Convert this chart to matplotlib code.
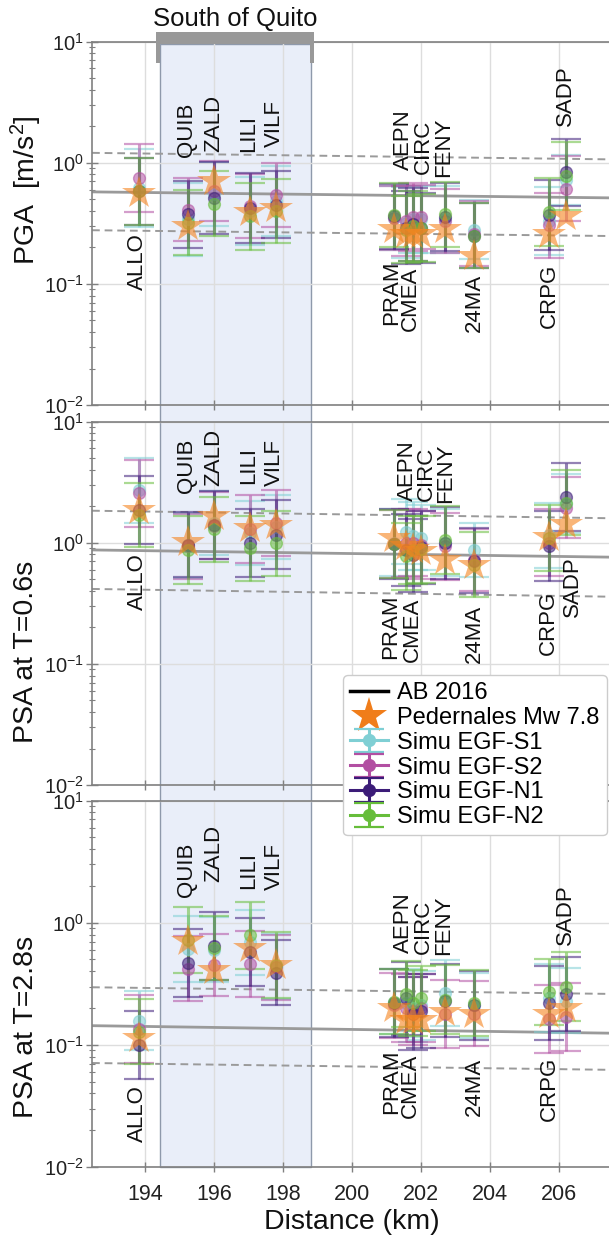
import numpy as np
import matplotlib
matplotlib.use('Agg')
import matplotlib.pyplot as plt
from matplotlib.patches import Rectangle
from matplotlib.lines import Line2D
import matplotlib.transforms as mtransforms
from matplotlib.ticker import FixedLocator, FuncFormatter, LogLocator, NullFormatter

plt.rcParams['font.family'] = ['Liberation Sans', 'DejaVu Sans']
plt.rcParams['mathtext.fontset'] = 'custom'
plt.rcParams['mathtext.rm'] = 'Liberation Sans'
plt.rcParams['mathtext.it'] = 'Liberation Sans:italic'
plt.rcParams['mathtext.bf'] = 'Liberation Sans:bold'

# ---------------- data ----------------
stations = ["ALLO", "QUIB", "ZALD", "LILI", "VILF", "PRAM", "CMEA", "AEPN",
            "CIRC", "FENY", "24MA", "CRPG", "SADP"]
distance_km = [193.83, 195.26, 196.0, 197.06, 197.81, 201.21, 201.55, 201.77,
               202.0, 202.69, 203.54, 205.71, 206.2]
label_x_km = [193.8, 195.2, 196.0, 197.0, 197.74, 201.15, 201.7, 201.5,
              202.06, 202.64, 203.55, 205.72, 206.17]
label_x_km_mid = [193.8, 195.2, 196.0, 197.0, 197.74, 201.12, 201.75, 201.6,
                  202.16, 202.72, 203.55, 205.70, 206.38]

sim_names = ["Simu EGF-S1", "Simu EGF-S2", "Simu EGF-N1", "Simu EGF-N2"]
sim_colors = ["#7fcfd4", "#b24fa2", "#3c1c78", "#66bd3a"]

# PGA
pga_obs = [0.565, 0.30, 0.71, 0.394, 0.42, 0.281, 0.256, 0.26, 0.256, 0.281, 0.17, 0.256, 0.362]
pga_s1 = [0.62, 0.34, 0.55, 0.40, 0.48, 0.35, 0.32, 0.34, 0.34, 0.34, 0.28, 0.33, 0.72]
pga_s2 = [0.75, 0.41, 0.58, 0.44, 0.54, 0.35, 0.33, 0.356, 0.356, 0.33, 0.26, 0.305, 0.61]
pga_n1 = [0.58, 0.375, 0.51, 0.42, 0.45, 0.36, 0.29, 0.31, 0.29, 0.356, 0.25, 0.37, 0.83]
pga_n2 = [0.58, 0.32, 0.46, 0.36, 0.40, 0.37, 0.28, 0.30, 0.29, 0.374, 0.25, 0.39, 0.78]
pga_s1_fac = [2.1, 2.0, 1.85, 1.9, 1.95, 1.85, 1.95, 1.9, 1.9, 1.9, 1.75, 1.9, 1.6]
pga_s2_fac = [1.9, 1.83, 1.77, 1.83, 1.85, 1.85, 1.95, 1.9, 1.85, 1.85, 1.85, 1.85, 1.85]
pga_n1_fac = [1.9, 1.9, 1.98, 1.95, 1.9, 1.85, 2.0, 2.0, 1.95, 1.9, 1.85, 1.95, 1.88]
pga_n2_fac = [1.9, 1.85, 1.84, 1.9, 1.85, 1.85, 1.9, 1.95, 1.9, 1.85, 1.85, 1.9, 1.9]
pga_ab_med = [0.574, 0.512]
pga_ab_hi = [1.205, 1.064]
pga_ab_lo = [0.277, 0.248]
pga_label_side = ["below", "above", "above", "above", "above", "below", "below",
                  "above", "above", "above", "below", "below", "above"]
pga_label_val = [0.26, 1.12, 1.22, 1.22, 1.35, 0.156, 0.138, 0.87, 0.81, 0.76, 0.121, 0.147, 2.0]

# PSA T=0.6 s
p06_obs = [1.86, 1.02, 1.66, 1.31, 1.40, 1.09, 0.93, 0.88, 0.86, 0.72, 0.66, 1.12, 1.43]
p06_s1 = [2.7, 0.95, 1.45, 1.2, 1.35, 1.0, 1.23, 1.13, 1.1, 1.0, 0.87, 1.15, 2.1]
p06_s2 = [2.55, 0.93, 1.38, 1.29, 1.45, 0.97, 0.99, 1.0, 0.96, 0.93, 0.72, 1.0, 1.95]
p06_n1 = [1.86, 0.96, 1.40, 0.99, 1.16, 0.975, 0.87, 0.79, 0.92, 1.0, 0.71, 0.94, 2.37]
p06_n2 = [1.69, 0.87, 1.29, 0.90, 0.99, 0.975, 0.77, 0.87, 0.88, 1.05, 0.66, 1.09, 2.14]
p06_s1_fac = [1.85, 1.85, 1.85, 1.85, 1.85, 1.9, 1.85, 1.9, 1.85, 1.9, 1.67, 1.85, 1.75]
p06_s2_fac = [1.9, 1.85, 1.9, 1.9, 1.86, 1.9, 1.9, 1.9, 1.9, 1.9, 1.8, 1.9, 1.8]
p06_n1_fac = [1.9, 1.85, 1.9, 1.9, 1.93, 1.94, 2.0, 2.0, 2.0, 1.98, 1.85, 1.95, 1.9]
p06_n2_fac = [1.85, 1.9, 1.85, 1.85, 1.86, 1.9, 1.9, 1.9, 1.9, 1.9, 1.85, 1.88, 1.85]
p06_ab_med = [0.871, 0.759]
p06_ab_hi = [1.835, 1.59]
p06_ab_lo = [0.415, 0.358]
p06_label_side = ["below", "above", "above", "above", "above", "below", "below",
                  "above", "above", "above", "below", "below", "below"]
p06_label_val = [0.82, 2.55, 2.94, 3.05, 2.94, 0.37, 0.35, 2.22, 2.2, 2.14, 0.31, 0.40, 0.77]

# PSA T=2.8 s
p28_obs = [0.113, 0.71, 0.41, 0.62, 0.45, 0.20, 0.16, 0.16, 0.16, 0.185, 0.18, 0.18, 0.20]
p28_s1 = [0.158, 0.61, 0.60, 0.69, 0.44, 0.226, 0.22, 0.20, 0.21, 0.265, 0.21, 0.24, 0.23]
p28_s2 = [0.134, 0.42, 0.45, 0.46, 0.43, 0.21, 0.20, 0.19, 0.20, 0.18, 0.18, 0.163, 0.17]
p28_n1 = [0.10, 0.47, 0.64, 0.58, 0.39, 0.22, 0.24, 0.18, 0.19, 0.23, 0.21, 0.22, 0.26]
p28_n2 = [0.128, 0.72, 0.62, 0.79, 0.45, 0.226, 0.26, 0.22, 0.24, 0.235, 0.22, 0.27, 0.30]
p28_s1_fac = [1.75, 1.86, 1.85, 1.85, 1.85, 1.85, 1.9, 1.9, 1.9, 1.85, 1.85, 1.9, 1.85]
p28_s2_fac = [1.9, 1.85, 1.8, 1.87, 1.85, 1.85, 1.9, 1.9, 1.9, 1.9, 1.85, 1.9, 1.9]
p28_n1_fac = [1.9, 1.9, 1.9, 1.9, 1.85, 1.9, 2.0, 2.0, 2.0, 2.0, 1.9, 2.0, 2.0]
p28_n2_fac = [1.85, 1.85, 1.83, 1.88, 1.85, 1.85, 1.85, 1.85, 1.85, 1.9, 1.85, 1.85, 1.9]
p28_ab_med = [0.1435, 0.1245]
p28_ab_hi = [0.296, 0.261]
p28_ab_lo = [0.071, 0.0624]
p28_label_side = ["below", "above", "above", "above", "above", "below", "below",
                  "above", "above", "above", "below", "below", "above"]
p28_label_val = [0.047, 1.62, 2.17, 1.89, 1.85, 0.091, 0.085, 0.56, 0.55, 0.54, 0.078, 0.080, 0.66]

ab_dist = [192.47, 207.53]
x_ticks = [194, 196, 198, 200, 202, 204, 206]
y_ticks = [1e-2, 1e-1, 1e0, 1e1]
band_km = [194.44, 198.8]
ylabels = ["PGA  [m/s$^{2}$]", "PSA at T=0.6s", "PSA at T=2.8s"]

panels = [
    dict(obs=pga_obs, sims=[pga_s1, pga_s2, pga_n1, pga_n2],
         facs=[pga_s1_fac, pga_s2_fac, pga_n1_fac, pga_n2_fac],
         ab=(pga_ab_med, pga_ab_hi, pga_ab_lo), side=pga_label_side,
         lval=pga_label_val, lx=label_x_km),
    dict(obs=p06_obs, sims=[p06_s1, p06_s2, p06_n1, p06_n2],
         facs=[p06_s1_fac, p06_s2_fac, p06_n1_fac, p06_n2_fac],
         ab=(p06_ab_med, p06_ab_hi, p06_ab_lo), side=p06_label_side,
         lval=p06_label_val, lx=label_x_km_mid),
    dict(obs=p28_obs, sims=[p28_s1, p28_s2, p28_n1, p28_n2],
         facs=[p28_s1_fac, p28_s2_fac, p28_n1_fac, p28_n2_fac],
         ab=(p28_ab_med, p28_ab_hi, p28_ab_lo), side=p28_label_side,
         lval=p28_label_val, lx=label_x_km),
]

# ---------------- figure ----------------
W, H = 609, 1238
fig = plt.figure(figsize=(W / 100, H / 100), dpi=100)

def fy(px):
    return 1 - px / H

ax_rects = [(41.5, 405.0), (421.5, 785.0), (800.5, 1167.0)]
left_px, right_px = 92, 612
axes = []
for (t, b) in ax_rects:
    ax = fig.add_axes([left_px / W, fy(b), (right_px - left_px) / W, (b - t) / H])
    axes.append(ax)

star_color = "#f5841f"
gray = "#9a9a9a"

def fmt_pow(v, pos):
    e = int(round(np.log10(v)))
    return r"$\mathregular{10^{%d}}$" % e

for i, (ax, p) in enumerate(zip(axes, panels)):
    ax.set_facecolor("none")
    ax.set_yscale("log")
    ax.set_xlim(ab_dist[0], ab_dist[1])
    ax.set_ylim(1e-2, 1e1)
    ax.yaxis.set_major_locator(FixedLocator(y_ticks))
    ax.yaxis.set_major_formatter(FuncFormatter(fmt_pow))
    ax.yaxis.set_minor_locator(LogLocator(base=10, subs=np.arange(2, 10), numticks=20))
    ax.yaxis.set_minor_formatter(NullFormatter())
    ax.set_xticks(x_ticks)
    ax.grid(True, which="major", color="#dddddd", lw=1.0, zorder=0)
    ax.set_axisbelow(True)
    for s in ["left", "top", "bottom", "right"]:
        ax.spines[s].set_color("#808080")
        ax.spines[s].set_linewidth(1.2)
    ax.tick_params(axis="y", which="major", direction="inout", length=8, width=1,
                   color="#808080", labelsize=14.5, pad=2, labelcolor="#222222")
    ax.tick_params(axis="y", which="minor", direction="inout", length=4, width=0.8,
                   color="#808080")
    ax.tick_params(axis="x", which="major", direction="inout", length=7, width=1,
                   color="#808080", labelsize=15.5, pad=9, labelcolor="#222222")
    if i < 2:
        ax.tick_params(axis="x", labelbottom=False)

    med, hi, lo = p["ab"]
    ax.plot(ab_dist, med, color=gray, lw=2.0, zorder=2)
    ax.plot(ab_dist, hi, color=gray, lw=1.4, ls=(0, (4, 2.5)), zorder=2)
    ax.plot(ab_dist, lo, color=gray, lw=1.4, ls=(0, (4, 2.5)), zorder=2)

    for sv, fv, c in zip(p["sims"], p["facs"], sim_colors):
        sv = np.array(sv)
        fv = np.array(fv)
        yerr = [sv - sv / fv, sv * fv - sv]
        ax.errorbar(distance_km, sv, yerr=yerr, fmt="o", color=c, ms=8.5, alpha=0.55,
                    markeredgecolor=c, capsize=11, elinewidth=2.2, capthick=1.6, zorder=3)

    ax.plot(distance_km, p["obs"], ls="none", marker="*", ms=25, color=star_color,
            alpha=0.6, mew=0, zorder=4)

    for name, lx, sd, lv in zip(stations, p["lx"], p["side"], p["lval"]):
        ax.text(lx, lv, name, rotation=90, ha="center",
                va="bottom" if sd == "above" else "top",
                fontsize=16, color="#111111", zorder=5)

# y labels
ylab_y = [190, 652, 1027]
for lab, yy in zip(ylabels, ylab_y):
    fig.text(26 / W, fy(yy), lab, rotation=90, ha="center", va="center",
             fontsize=20.5, color="#111111")

fig.text(352 / W, fy(1222), "Distance (km)", ha="center", va="center",
         fontsize=20.5, color="#111111")

# band across panels
btrans = mtransforms.blended_transform_factory(axes[0].transData, fig.transFigure)
band = Rectangle((band_km[0], fy(1167)), band_km[1] - band_km[0], fy(44) - fy(1167),
                 transform=btrans, facecolor="#e9eef9", edgecolor="#8e99ab",
                 lw=1.0, zorder=-1)
fig.patches.append(band)

# bracket "South of Quito"
bracket_col = "#999999"
fig.patches.append(Rectangle((194.32, fy(44)), 198.9 - 194.32, fy(32) - fy(44),
                             transform=btrans, facecolor=bracket_col, edgecolor="none", zorder=6))
fig.patches.append(Rectangle((194.32, fy(63)), 0.12, fy(44) - fy(63),
                             transform=btrans, facecolor=bracket_col, edgecolor="none", zorder=6))
fig.patches.append(Rectangle((198.78, fy(63)), 0.12, fy(44) - fy(63),
                             transform=btrans, facecolor=bracket_col, edgecolor="none", zorder=6))
fig.text(sum(band_km) / 2, fy(19), "South of Quito", transform=btrans, ha="center",
         va="center", fontsize=18.5, color="#111111")

# legend
handles = [Line2D([], [], color="black", lw=2.5),
           Line2D([], [], ls="none", marker="*", ms=27, color="#f07d1a", mew=0)]
for c in sim_colors:
    h = axes[2].errorbar([np.nan], [np.nan], yerr=[[1], [1]], fmt="-o", color=c,
                         ms=8.5, capsize=11, elinewidth=2.2, capthick=1.6, lw=2.2)
    handles.append(h)
labels = ["AB 2016", "Pedernales Mw 7.8"] + sim_names
leg = fig.legend(handles, labels, loc="upper left",
                 bbox_to_anchor=(343 / W, fy(675)), borderaxespad=0,
                 fontsize=17, frameon=True, fancybox=True, framealpha=1,
                 edgecolor="#cccccc", handlelength=1.6, handletextpad=0.4,
                 borderpad=0.3, labelspacing=0.12, numpoints=1)
leg.get_frame().set_linewidth(1.0)
leg.set_zorder(10)

fig.savefig("out.png", dpi=100)
